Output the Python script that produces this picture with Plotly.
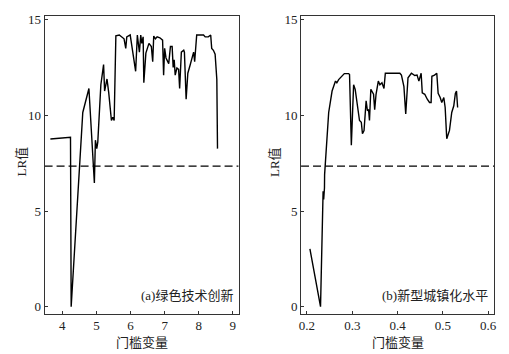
import plotly.graph_objects as go

# Panel (a) 绿色技术创新
xa = [3.65, 4.24, 4.26, 4.51, 4.60, 4.78, 4.94, 4.97, 5.01, 5.04, 5.13, 5.21, 5.24, 5.31, 5.36, 5.44, 5.48, 5.52,
      5.57, 5.67, 5.81, 5.86, 5.89, 5.99, 6.15, 6.20, 6.26, 6.30, 6.33, 6.37, 6.39, 6.45, 6.54, 6.61, 6.65, 6.68,
      6.73, 6.78, 6.86, 6.94, 6.97, 7.00, 7.04, 7.12, 7.17, 7.22, 7.25, 7.28, 7.31, 7.36, 7.41, 7.44, 7.49, 7.56,
      7.58, 7.63, 7.68, 7.75, 7.80, 7.85, 7.88, 7.94, 8.14, 8.19, 8.28, 8.35, 8.38, 8.43, 8.48, 8.53, 8.55]
ya = [8.76, 8.85, 0.0, 7.06, 10.15, 11.4, 6.46, 8.7, 8.26, 8.6, 11.6, 12.65, 11.27, 11.9, 11.2, 9.73, 9.9, 9.73,
      14.16, 14.2, 14.0, 13.5, 14.1, 14.2, 12.3, 14.2, 13.3, 14.2, 13.76, 14.1, 11.7, 13.25, 13.76, 13.6, 12.8, 14.14,
      14.0, 14.1, 14.05, 13.93, 12.1, 13.5, 13.0, 12.7, 13.6, 13.6, 12.5, 12.9, 12.1, 12.47, 12.4, 11.4, 13.3, 13.4,
      13.3, 10.84, 12.2, 12.64, 13.0, 13.3, 12.8, 14.2, 14.2, 14.1, 14.1, 14.2, 13.5, 13.4, 13.2, 11.87, 8.26]

# Panel (b) 新型城镇化水平
xb = [0.2066, 0.230, 0.2357, 0.237, 0.2387, 0.239, 0.248, 0.2555, 0.263, 0.266, 0.270, 0.277, 0.2825, 0.292, 0.294,
      0.298, 0.303, 0.3065, 0.310, 0.316, 0.320, 0.3225, 0.326, 0.3306, 0.3335, 0.336, 0.338, 0.341, 0.347, 0.3495,
      0.3525, 0.3575, 0.361, 0.3655, 0.370, 0.373, 0.405, 0.4085, 0.414, 0.418, 0.423, 0.4305, 0.438, 0.443, 0.447,
      0.452, 0.4545, 0.460, 0.4655, 0.4705, 0.474, 0.4757, 0.4815, 0.4865, 0.4895, 0.494, 0.4975, 0.502, 0.505,
      0.5085, 0.5145, 0.5195, 0.524, 0.5275, 0.530, 0.5325]
yb = [3.02, 0.0, 6.03, 5.6, 6.2, 6.9, 10.15, 11.27, 11.79, 11.7, 11.87, 12.04, 12.18, 12.18, 12.13,
      8.44, 11.6, 11.36, 10.67, 9.73, 9.64, 9.04, 9.2, 10.76, 10.24, 10.3, 9.73, 11.36, 11.1, 10.3,
      11.1, 11.79, 11.6, 11.7, 11.4, 12.2, 12.2, 12.1, 11.5, 10.07, 11.96, 12.2, 12.08, 12.1, 11.79,
      12.2, 11.18, 11.1, 10.84, 10.67, 10.67, 12.04, 12.1, 12.2, 11.15, 10.93, 10.67, 10.93, 10.41,
      8.78, 9.21, 10.15, 10.5, 11.15, 11.27, 10.41]

critical = 7.35
xa_range = [3.48, 9.17]
xb_range = [0.187, 0.613]
y_range = [-0.36, 15.2]
xa_ticks = [4, 5, 6, 7, 8, 9]
xb_ticks = [0.2, 0.3, 0.4, 0.5, 0.6]
y_ticks = [0, 5, 10, 15]
labels = ["(a)绿色技术创新", "(b)新型城镇化水平"]
xtitle = "门槛变量"
ytitle = "LR值"

W, H = 509, 354
FONT = "Liberation Serif, Noto Sans CJK SC, serif"

fig = go.Figure()
fig.add_trace(go.Scatter(x=xa, y=ya, mode="lines", line=dict(color="black", width=1.4),
                         xaxis="x", yaxis="y", showlegend=False))
fig.add_trace(go.Scatter(x=xa_range, y=[critical, critical], mode="lines",
                         line=dict(color="black", width=1.2, dash="8px,4px"),
                         xaxis="x", yaxis="y", showlegend=False))
fig.add_trace(go.Scatter(x=xb, y=yb, mode="lines", line=dict(color="black", width=1.4),
                         xaxis="x2", yaxis="y2", showlegend=False))
fig.add_trace(go.Scatter(x=xb_range, y=[critical, critical], mode="lines",
                         line=dict(color="black", width=1.2, dash="8px,4px"),
                         xaxis="x2", yaxis="y2", showlegend=False))

ydom = [(H - 314) / H, (H - 12) / H]
axcommon = dict(showgrid=False, zeroline=False, showline=True, linecolor="#333", linewidth=1,
                mirror=True, ticks="inside", ticklen=3, tickcolor="#333",
                tickfont=dict(family=FONT, size=13, color="#222"))
fig.update_layout(
    width=W, height=H, margin=dict(l=0, r=0, t=0, b=0),
    paper_bgcolor="white", plot_bgcolor="white",
    xaxis=dict(domain=[43 / W, 239 / W], range=xa_range, tickvals=xa_ticks, anchor="y", **axcommon),
    yaxis=dict(domain=ydom, range=y_range, tickvals=y_ticks, anchor="x", **axcommon),
    xaxis2=dict(domain=[302 / W, 497 / W], range=xb_range, tickvals=xb_ticks, anchor="y2",
                tickformat=".1f", **axcommon),
    yaxis2=dict(domain=ydom, range=y_range, tickvals=y_ticks, anchor="x2", **axcommon),
)

annots = []
for cx, lx in [(141, 20), (400, 275)]:
    annots.append(dict(x=cx / W, y=(H - 343) / H, xref="paper", yref="paper", text=xtitle,
                       xanchor="center", yanchor="middle",
                       showarrow=False, font=dict(family=FONT, size=13, color="#222")))
    annots.append(dict(x=lx / W, y=(H - 160) / H, xref="paper", yref="paper", text=ytitle,
                       xanchor="center", yanchor="middle",
                       textangle=-90, showarrow=False, font=dict(family=FONT, size=13, color="#222")))
annots.append(dict(x=xa_range[1] - 0.1, y=0.6, xref="x", yref="y", text=labels[0], xanchor="right",
                   showarrow=False, font=dict(family=FONT, size=13, color="#222")))
annots.append(dict(x=xb_range[1] - 0.009, y=0.6, xref="x2", yref="y2", text=labels[1], xanchor="right",
                   showarrow=False, font=dict(family=FONT, size=13, color="#222")))
fig.update_layout(annotations=annots)

fig.write_html("out.html")
